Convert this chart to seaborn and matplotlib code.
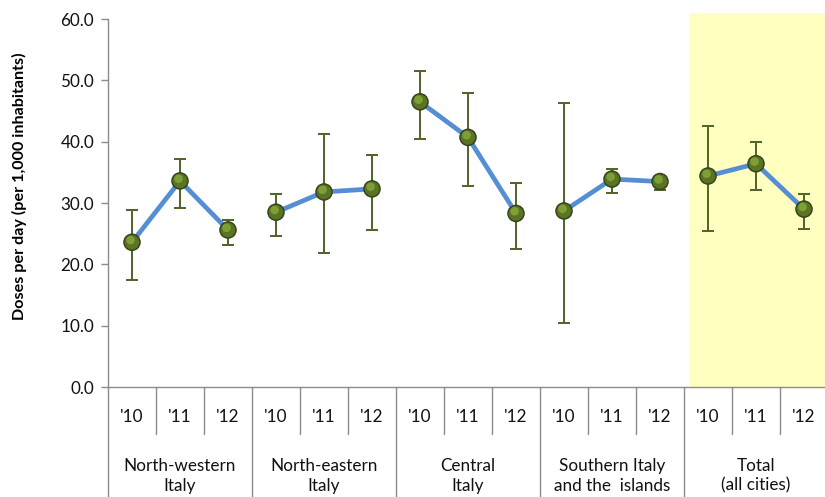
import matplotlib
matplotlib.use("Agg")
import matplotlib.pyplot as plt
from matplotlib.patches import Rectangle
import numpy as np
import pandas as pd
import seaborn as sns

# Regions, years and doses per day (per 1,000 inhabitants)
regions = ["North-western\nItaly", "North-eastern\nItaly", "Central\nItaly",
           "Southern Italy\nand the  islands", "Total\n(all cities)"]
years = ["'10", "'11", "'12"]
values = [23.6, 33.6, 25.6,
          28.5, 31.8, 32.3,
          46.5, 40.7, 28.3,
          28.7, 33.9, 33.5,
          34.4, 36.4, 29.0]
err_high = [28.9, 37.1, 27.2,
            31.4, 41.3, 37.9,
            51.6, 48.0, 33.2,
            46.3, 35.5, 34.2,
            42.6, 40.0, 31.5]
err_low = [17.4, 29.2, 23.2,
           24.7, 21.8, 25.6,
           40.4, 32.8, 22.5,
           10.4, 31.7, 32.1,
           25.4, 32.1, 25.8]
y_ticks = [0, 10, 20, 30, 40, 50, 60]

n_years = len(years)
df = pd.DataFrame({
    "pos": np.arange(len(values)),
    "value": values,
    "region": np.repeat(np.arange(len(regions)), n_years),
    "low": err_low,
    "high": err_high,
})

sns.set_theme(style="white")
plt.rcParams["font.family"] = ["Lato", "DejaVu Sans"]

FS = 12.3
W, H = 825, 497
fig = plt.figure(figsize=(W / 100, H / 100), dpi=100)
ax_left, ax_right, ax_top, ax_bottom = 108, 828, 19, 387
ax = fig.add_axes([ax_left / W, 1 - ax_bottom / H,
                   (ax_right - ax_left) / W, (ax_bottom - ax_top) / H])

ax.set_xlim(-0.5, len(values) - 0.5)
ax.set_ylim(0, 60)

# Highlight band behind the total
ax.add_patch(Rectangle((11.5 + 0.1, 0), 3.0, 61.0, facecolor="#FFFFC0",
                       edgecolor="none", zorder=0, clip_on=False))

# Connecting lines, one per region
sns.lineplot(data=df, x="pos", y="value", units="region", estimator=None,
             color="#558ED5", linewidth=3.4, ax=ax, zorder=2, legend=False)

# Error bars
yerr = np.vstack([df["value"] - df["low"], df["high"] - df["value"]])
ax.errorbar(df["pos"], df["value"], yerr=yerr, fmt="none",
            ecolor="#4F6228", elinewidth=1.4, capsize=4.0, capthick=1.4, zorder=3)

# Spherical markers
sns.scatterplot(data=df, x="pos", y="value", s=160, color="#34441A",
                edgecolor="none", ax=ax, zorder=4, legend=False)
sns.scatterplot(data=df, x="pos", y="value", s=110, color="#5A7424",
                edgecolor="none", ax=ax, zorder=5, legend=False)
sns.scatterplot(data=df, x=df["pos"] - 0.03, y=df["value"] + 0.35, s=38,
                color="#7E9E36", edgecolor="none", ax=ax, zorder=6, legend=False)

# Axes styling
grey = "#8C8C8C"
for side in ["top", "right"]:
    ax.spines[side].set_visible(False)
ax.spines["left"].set_color(grey)
ax.spines["bottom"].set_color(grey)
ax.spines["left"].set_linewidth(1.0)
ax.spines["bottom"].set_linewidth(1.0)

ax.set_yticks(y_ticks)
ax.set_yticklabels([f"{v:.1f}" for v in y_ticks], fontsize=FS, color="#111111")
ax.tick_params(axis="y", direction="out", length=5, width=1.0, color=grey, pad=5, left=True)
ax.set_xticks([])
ax.set_xlabel("")
ax.set_ylabel("Doses per day (per 1,000 inhabitants)", fontsize=11.6,
              fontweight="bold", color="#000000")
ax.yaxis.set_label_coords(-(ax_left - 27) / (ax_right - ax_left), 0.546)

# Multi-level category axis
trans = ax.get_xaxis_transform()
px = ax_bottom - ax_top
def frac(y_px):
    return (ax_bottom - y_px) / px

for i in range(len(values) + 1):
    x = i - 0.5
    if i % n_years == 0:
        y_end = frac(H + 2)
    else:
        y_end = frac(434)
    ax.plot([x, x], [0, y_end], transform=trans, color=grey, lw=1.0, clip_on=False)

for i, _ in enumerate(values):
    ax.text(i, frac(417), years[i % n_years], transform=trans, ha="center",
            va="center", fontsize=FS, color="#111111")

for r, name in enumerate(regions):
    ax.text(r * n_years + 1, frac(476), name, transform=trans, ha="center",
            va="center", fontsize=FS, color="#111111", linespacing=1.25)

fig.savefig("out.png", dpi=100)
